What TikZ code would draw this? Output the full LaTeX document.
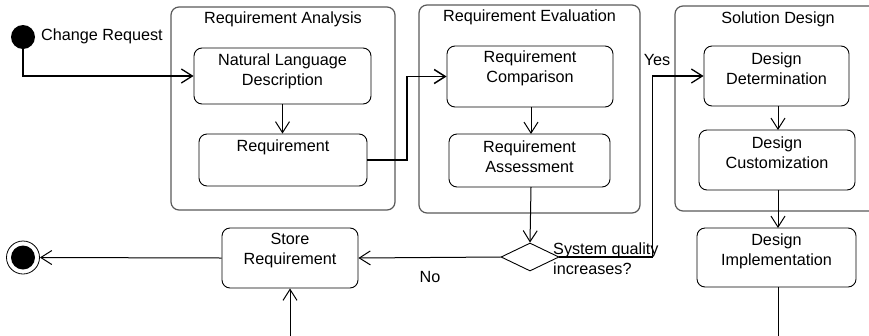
\documentclass[tikz,border=0pt]{standalone}
\usepackage{fontspec}
\setmainfont{Liberation Sans}
\usetikzlibrary{arrows.meta,shapes.geometric,calc}
\begin{document}
\begin{tikzpicture}[x=1pt,y=-1pt,
  every node/.style={font=\fontsize{16.2}{20}\selectfont},
  container/.style={draw=black!65,line width=1.2pt,rounded corners=8pt},
  actbox/.style={draw=black,line width=0.9pt,rounded corners=8pt,rectangle,inner sep=0pt},
  txt/.style={inner sep=0pt,align=center},
  conn/.style={draw=black,line width=1pt,-{Straight Barb[length=11pt,width=14pt]}},
  plain/.style={draw=black,line width=1pt}
]
\clip (0,0) rectangle (869,335);
\useasboundingbox (0,0) rectangle (869,335);

% containers
\node[container,minimum width=224pt,minimum height=203pt] (ra) at (283,108.5) {};
\node[container,minimum width=221pt,minimum height=208pt] (re) at (529.5,109) {};
\node[container,minimum width=220pt,minimum height=205pt] (sd) at (785,108.5) {};
\node[txt] (raT) at (283,19) {Requirement Analysis};
\node[txt] (reT) at (529.5,17) {Requirement Evaluation};
\node[txt] (sdT) at (778,19) {Solution Design};

% activity boxes
\node[actbox,minimum width=177pt,minimum height=56pt] (nl) at (282.5,76) {};
\node[txt] (nlT) at (282.5,71) {Natural Language\\Description};
\node[actbox,minimum width=168pt,minimum height=52pt] (req) at (283,160) {};
\node[txt] (reqT) at (283,147) {Requirement};
\node[actbox,minimum width=166pt,minimum height=61pt] (comp) at (530,76.5) {};
\node[txt] (compT) at (530,68) {Requirement\\Comparison};
\node[actbox,minimum width=161pt,minimum height=53pt] (ass) at (529.5,160.5) {};
\node[txt] (assT) at (529.5,157) {Requirement\\Assessment};
\node[actbox,minimum width=145pt,minimum height=60pt] (dd) at (776.5,76) {};
\node[txt] (ddT) at (776.5,69) {Design\\Determination};
\node[actbox,minimum width=156pt,minimum height=60pt] (dc) at (777,160) {};
\node[txt] (dcT) at (777,153) {Design\\Customization};
\node[actbox,minimum width=159pt,minimum height=59pt] (di) at (776.5,257.5) {};
\node[txt] (diT) at (776.5,251) {Design\\Implementation};
\node[actbox,minimum width=136pt,minimum height=60pt] (store) at (290,258) {};
\node[txt] (storeT) at (290,251) {Store\\Requirement};

% decision
\node[draw=black,line width=0.9pt,diamond,minimum width=58pt,minimum height=28pt,inner sep=0pt] (dec) at (530,257) {};
\node[inner sep=0pt,align=left,anchor=west] (decT) at (553,258.5) {System quality\\increases?};

% start / end
\node[circle,fill=black,minimum size=24pt,inner sep=0pt] (start) at (23,37) {};
\node[inner sep=0pt,anchor=west] (startT) at (41,36) {Change Request};
\node[circle,draw=black,line width=0.8pt,minimum size=33pt,inner sep=0pt] (fin) at (23,257.5) {};
\fill (fin.center) circle (12);

% labels
\node[inner sep=0pt] (yes) at (657,60) {Yes};
\node[inner sep=0pt] (no) at (430,277) {No};

% free ends
\coordinate (diOut) at (778,336);
\coordinate (storeIn) at (290,336);

% connectors
\draw[conn,line width=1.3pt] (start.south) |- (nl.west);
\draw[conn] (nl.south) -- (nl.south |- req.north);
\draw[conn,line width=1.5pt] (req.east) -| ($(req.east)!.5!(comp.west)$) |- (comp.west);
\draw[conn] (531,107) -- (531,134);
\draw[conn] (531,187) -- (dec.north);
\draw[conn,line width=1.3pt] (dec.east) -| ($(dd.west)+(-51,0)$) -- (dd.west);
\draw[conn] (dec.west) -- (store.east);
\draw[conn] (store.west) -- (fin.east);
\draw[conn] (storeIn) -- (store.south);
\draw[conn] (778,106) -- (778,130);
\draw[conn] (778,190) -- (778,228);
\draw[plain] (778,287) -- (diOut);
\end{tikzpicture}
\end{document}
